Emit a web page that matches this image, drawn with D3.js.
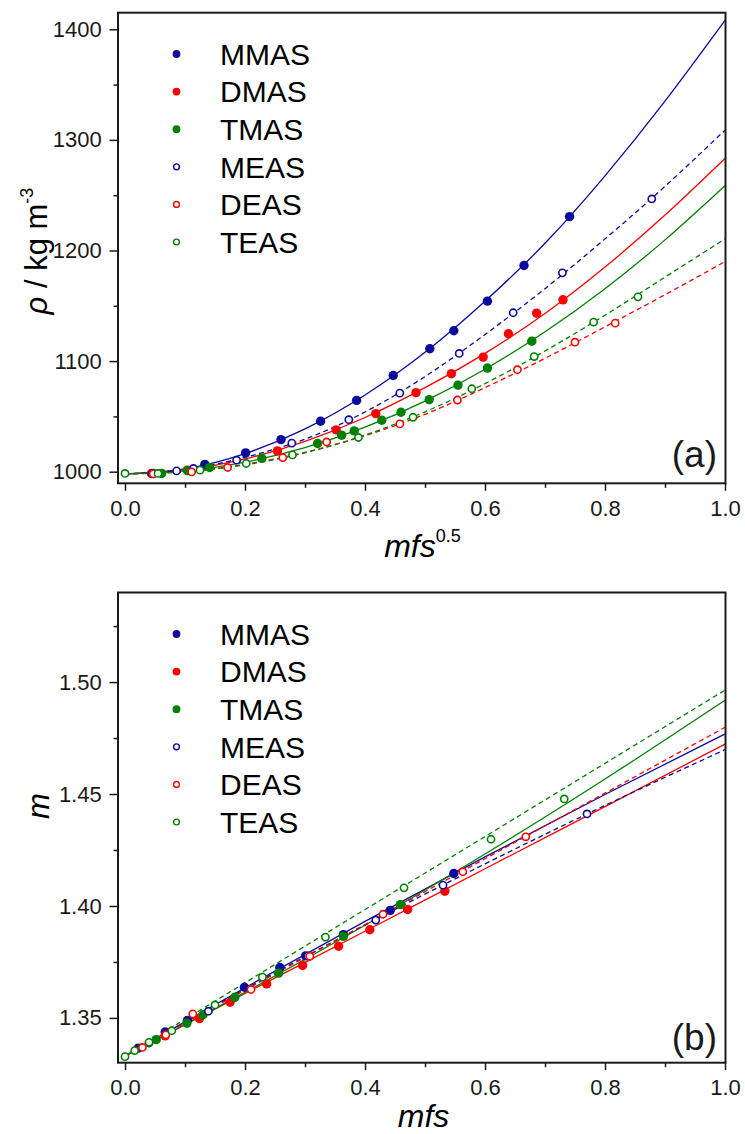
<!DOCTYPE html>
<html>
<head>
<meta charset="utf-8">
<script src="https://cdn.jsdelivr.net/npm/d3@7"></script>
<style>
  html, body { margin: 0; padding: 0; background: #fff; }
  svg { display: block; font-family: "Liberation Sans", Arial, sans-serif; }
</style>
</head>
<body>
<svg id="chart" width="745" height="1134"></svg>
<script>
// ---- series ----
const seriesNames = ["MMAS", "DMAS", "TMAS", "MEAS", "DEAS", "TEAS"];
const seriesColors = ["#0a0a9c", "#ff0000", "#008000", "#0a0a9c", "#ff0000", "#008000"];
const seriesOpen = [false, false, false, true, true, true];

// ---- panel (a): density vs mfs^0.5 ----
const aX_MMAS = [0.047, 0.133, 0.201, 0.260, 0.326, 0.386, 0.447, 0.508, 0.548, 0.604, 0.665, 0.741];
const aY_MMAS = [998.4, 1006.6, 1017.0, 1029.0, 1045.6, 1064.5, 1087.0, 1111.2, 1127.4, 1154.2, 1186.4, 1230.6];
const aX_DMAS = [0.044, 0.104, 0.254, 0.352, 0.418, 0.485, 0.544, 0.597, 0.639, 0.686, 0.730];
const aY_DMAS = [998.4, 1001.4, 1018.8, 1037.8, 1052.5, 1071.5, 1088.6, 1103.6, 1124.7, 1143.3, 1155.4];
const aX_TMAS = [0.061, 0.104, 0.141, 0.228, 0.321, 0.361, 0.382, 0.428, 0.460, 0.507, 0.555, 0.604, 0.678];
const aY_TMAS = [998.4, 1001.0, 1003.8, 1012.0, 1025.5, 1033.0, 1036.9, 1046.5, 1053.7, 1065.2, 1078.3, 1093.7, 1118.0];
const aX_MEAS = [0.045, 0.086, 0.114, 0.186, 0.278, 0.373, 0.458, 0.557, 0.647, 0.729, 0.878];
const aY_MEAS = [998.2, 1000.7, 1002.9, 1010.4, 1025.8, 1047.0, 1071.0, 1106.9, 1143.7, 1179.8, 1246.6];
const aX_DEAS = [0.047, 0.111, 0.171, 0.263, 0.336, 0.458, 0.554, 0.654, 0.750, 0.817];
const aY_DEAS = [998.0, 999.8, 1003.8, 1012.7, 1026.9, 1043.2, 1064.8, 1092.2, 1117.1, 1134.3];
const aX_TEAS = [0.000, 0.055, 0.125, 0.202, 0.279, 0.389, 0.480, 0.578, 0.682, 0.781, 0.855];
const aY_TEAS = [998.4, 998.4, 1001.4, 1007.4, 1015.2, 1030.9, 1049.2, 1075.0, 1104.1, 1135.2, 1158.1];

// fitted curves, sampled along mfs^0.5
const fitGridA = [0.0, 0.1, 0.2, 0.3, 0.4, 0.5, 0.6, 0.7, 0.8, 0.9, 1.0];
const aFit_MMAS = [998, 1002.6, 1016.3, 1038.7, 1069.4, 1108.0, 1154.2, 1206.5, 1267.5, 1335.0, 1408.0];
const aFit_DMAS = [998, 1001.7, 1011.5, 1027.5, 1049.0, 1076.0, 1107.0, 1143.0, 1185.0, 1232.0, 1283.2];
const aFit_TMAS = [998, 1000.7, 1008.6, 1021.8, 1040.2, 1063.8, 1092.6, 1126.5, 1165.5, 1209.6, 1258.6];
const aFit_MEAS = [998, 1002.0, 1013.0, 1029.5, 1054.0, 1086.0, 1124.0, 1165.5, 1210.5, 1258.0, 1308.8];
const aFit_DEAS = [998, 1000.1, 1006.6, 1017.5, 1032.6, 1051.9, 1076.0, 1102.5, 1131.0, 1160.0, 1190.0];
const aFit_TEAS = [998, 999.9, 1006.1, 1017.1, 1033.1, 1054.1, 1079.6, 1109.1, 1141.5, 1175.9, 1210.5];

// ---- panel (b): m vs mfs ----
const bX_MMAS = [0.022, 0.067, 0.104, 0.199, 0.258, 0.301, 0.364, 0.442, 0.548];
const bY_MMAS = [1.3365, 1.3437, 1.3489, 1.3637, 1.3725, 1.3777, 1.3872, 1.3980, 1.4145];
const bX_DMAS = [0.067, 0.124, 0.175, 0.236, 0.296, 0.356, 0.408, 0.471, 0.533];
const bY_DMAS = [1.3420, 1.3497, 1.3570, 1.3652, 1.3734, 1.3820, 1.3894, 1.3984, 1.4066];
const bX_TMAS = [0.052, 0.103, 0.130, 0.183, 0.256, 0.364, 0.459];
const bY_TMAS = [1.3403, 1.3476, 1.3514, 1.3592, 1.3700, 1.3864, 1.4006];
const bX_MEAS = [0.040, 0.139, 0.305, 0.418, 0.530, 0.770];
const bY_MEAS = [1.3388, 1.3530, 1.3777, 1.3937, 1.4093, 1.4411];
const bX_DEAS = [0.029, 0.068, 0.113, 0.210, 0.308, 0.430, 0.563, 0.668];
const bY_DEAS = [1.3368, 1.3425, 1.3518, 1.3627, 1.3775, 1.3963, 1.4153, 1.4309];
const bX_TEAS = [0.000, 0.016, 0.040, 0.078, 0.150, 0.229, 0.334, 0.465, 0.610, 0.732];
const bY_TEAS = [1.3327, 1.3354, 1.3391, 1.3443, 1.3558, 1.3682, 1.3861, 1.4081, 1.4298, 1.4478];

// fitted curves, sampled along mfs
const fitGridB = [0.0, 0.2, 0.4, 0.6, 0.8, 1.0];
const bFit_MMAS = [1.333, 1.3635, 1.3931, 1.4219, 1.4498, 1.4768];
const bFit_DMAS = [1.333, 1.3609, 1.3887, 1.4166, 1.4444, 1.4723];
const bFit_TMAS = [1.333, 1.3614, 1.3914, 1.4232, 1.4567, 1.4919];
const bFit_MEAS = [1.333, 1.3629, 1.3915, 1.4188, 1.4449, 1.4698];
const bFit_DEAS = [1.333, 1.3624, 1.3917, 1.4211, 1.4504, 1.4798];
const bFit_TEAS = [1.333, 1.3657, 1.3984, 1.4310, 1.4637, 1.4964];

// ---- ticks ----
const xTicks = [0.0, 0.2, 0.4, 0.6, 0.8, 1.0];
const xMinorTicks = [0.1, 0.3, 0.5, 0.7, 0.9];
const aYTicks = [1000, 1100, 1200, 1300, 1400];
const aYMinorTicks = [1050, 1150, 1250, 1350];
const bYTicks = [1.35, 1.40, 1.45, 1.50];
const bYMinorTicks = [1.375, 1.425, 1.475, 1.525];

// ---- assemble ----
const zip = (xs, ys) => xs.map((v, i) => [v, ys[i]]);
const panelA = {
  pts: [zip(aX_MMAS, aY_MMAS), zip(aX_DMAS, aY_DMAS), zip(aX_TMAS, aY_TMAS),
        zip(aX_MEAS, aY_MEAS), zip(aX_DEAS, aY_DEAS), zip(aX_TEAS, aY_TEAS)],
  fits: [aFit_MMAS, aFit_DMAS, aFit_TMAS, aFit_MEAS, aFit_DEAS, aFit_TEAS].map(f => zip(fitGridA, f))
};
const panelB = {
  pts: [zip(bX_MMAS, bY_MMAS), zip(bX_DMAS, bY_DMAS), zip(bX_TMAS, bY_TMAS),
        zip(bX_MEAS, bY_MEAS), zip(bX_DEAS, bY_DEAS), zip(bX_TEAS, bY_TEAS)],
  fits: [bFit_MMAS, bFit_DMAS, bFit_TMAS, bFit_MEAS, bFit_DEAS, bFit_TEAS].map(f => zip(fitGridB, f))
};

const svg = d3.select("#chart");
const ink = "#1a1a1a";
const left = 118, right = 725.5;

function drawPanel(p) {
  const x = d3.scaleLinear().domain([-0.0117, 1.0]).range([left, 725]);
  const y = d3.scaleLinear().domain(p.yDomain).range([p.bottom, p.top]);
  const g = svg.append("g");

  const clipId = "clip-" + p.id;
  g.append("clipPath").attr("id", clipId)
    .append("rect").attr("x", left).attr("y", p.top)
    .attr("width", right - left).attr("height", p.bottom - p.top);

  // minor ticks
  g.append("g").attr("transform", `translate(0,${p.bottom})`)
    .call(d3.axisBottom(x).tickValues(xMinorTicks).tickSize(4.5).tickFormat(""))
    .call(a => a.select(".domain").remove())
    .call(a => a.selectAll("line").attr("stroke", ink).attr("stroke-width", 1.5));
  g.append("g").attr("transform", `translate(${left},0)`)
    .call(d3.axisLeft(y).tickValues(p.yMinor).tickSize(4.5).tickFormat(""))
    .call(a => a.select(".domain").remove())
    .call(a => a.selectAll("line").attr("stroke", ink).attr("stroke-width", 1.5));

  // major ticks and labels
  g.append("g").attr("transform", `translate(0,${p.bottom})`)
    .call(d3.axisBottom(x).tickValues(xTicks).tickSize(7.5).tickPadding(9.5).tickFormat(d3.format(".1f")))
    .call(a => a.select(".domain").remove())
    .call(a => a.selectAll("line").attr("stroke", ink).attr("stroke-width", 1.5))
    .call(a => a.selectAll("text").attr("fill", ink).style("font-size", "22px")
      .style("font-family", '"Liberation Sans", Arial, sans-serif'));
  g.append("g").attr("transform", `translate(${left},0)`)
    .call(d3.axisLeft(y).tickValues(p.yTicks).tickSize(8.5).tickPadding(7.8).tickFormat(p.yFormat))
    .call(a => a.select(".domain").remove())
    .call(a => a.selectAll("line").attr("stroke", ink).attr("stroke-width", 1.5))
    .call(a => a.selectAll("text").attr("fill", ink).style("font-size", "22px")
      .style("font-family", '"Liberation Sans", Arial, sans-serif'));

  // fitted curves
  const line = d3.line().x(d => x(d[0])).y(d => y(d[1])).curve(d3.curveNatural);
  const curves = g.append("g").attr("clip-path", `url(#${clipId})`);
  p.fits.forEach((f, i) => {
    curves.append("path").attr("d", line(f))
      .attr("fill", "none").attr("stroke", seriesColors[i])
      .attr("stroke-width", 1.3)
      .attr("stroke-dasharray", seriesOpen[i] ? "5,3.5" : null);
  });

  // measured points
  const marks = g.append("g");
  p.pts.forEach((pts, i) => {
    marks.selectAll(null).data(pts).enter().append("circle")
      .attr("cx", d => x(d[0])).attr("cy", d => y(d[1]))
      .attr("r", seriesOpen[i] ? 3.6 : 4.7)
      .attr("fill", seriesOpen[i] ? "#fff" : seriesColors[i])
      .attr("stroke", seriesOpen[i] ? seriesColors[i] : "none")
      .attr("stroke-width", seriesOpen[i] ? 1.6 : 0);
  });

  // frame
  g.append("rect").attr("x", left).attr("y", p.top)
    .attr("width", right - left).attr("height", p.bottom - p.top)
    .attr("fill", "none").attr("stroke", ink).attr("stroke-width", 2);

  // legend
  const leg = g.append("g");
  seriesNames.forEach((name, i) => {
    const cy = p.legendTop + i * p.legendStep;
    leg.append("circle").attr("cx", 176.5).attr("cy", cy)
      .attr("r", seriesOpen[i] ? 2.9 : 3.9)
      .attr("fill", seriesOpen[i] ? "#fff" : seriesColors[i])
      .attr("stroke", seriesOpen[i] ? seriesColors[i] : "none")
      .attr("stroke-width", seriesOpen[i] ? 1.4 : 0);
    leg.append("text").attr("x", 220).attr("y", cy + 10.8)
      .attr("fill", "#000").style("font-size", "30px").text(name);
  });

  // panel letter
  g.append("text").attr("x", 717).attr("y", p.letterY)
    .attr("text-anchor", "end").attr("fill", ink)
    .style("font-size", "37px").text(p.letter);

  return { x, y, g };
}

// panel (a)
const A = drawPanel({
  id: "a", top: 12.7, bottom: 483.3, yDomain: [989.5, 1415],
  yTicks: aYTicks, yMinor: aYMinorTicks, yFormat: d3.format("d"),
  fits: panelA.fits, pts: panelA.pts,
  legendTop: 54, legendStep: 37.6, letter: "(a)", letterY: 466.5
});
// panel (b)
const B = drawPanel({
  id: "b", top: 592.5, bottom: 1062.7, yDomain: [1.33, 1.54],
  yTicks: bYTicks, yMinor: bYMinorTicks, yFormat: d3.format(".2f"),
  fits: panelB.fits, pts: panelB.pts,
  legendTop: 634, legendStep: 37.6, letter: "(b)", letterY: 1050
});

// axis titles
const ta = svg.append("text").attr("x", 422.5).attr("y", 557.3)
  .attr("text-anchor", "middle").attr("fill", "#000").style("font-size", "32px");
ta.append("tspan").style("font-style", "italic").text("mfs");
ta.append("tspan").attr("dy", -15.6).style("font-size", "18px").text("0.5");

svg.append("text").attr("x", 423.5).attr("y", 1127)
  .attr("text-anchor", "middle").attr("fill", "#000").style("font-size", "32px")
  .style("font-style", "italic").text("mfs");

const ya = svg.append("text").attr("transform", "translate(47,251) rotate(-90)")
  .attr("text-anchor", "middle").attr("fill", "#000").style("font-size", "31px");
ya.append("tspan").style("font-style", "italic").text("\u03c1");
ya.append("tspan").text(" / kg m");
ya.append("tspan").attr("dy", -14).style("font-size", "18px").text("-3");

svg.append("text").attr("transform", "translate(49,806) rotate(-90)")
  .attr("text-anchor", "middle").attr("fill", "#000").style("font-size", "31px")
  .style("font-style", "italic").text("m");
</script>
</body>
</html>
